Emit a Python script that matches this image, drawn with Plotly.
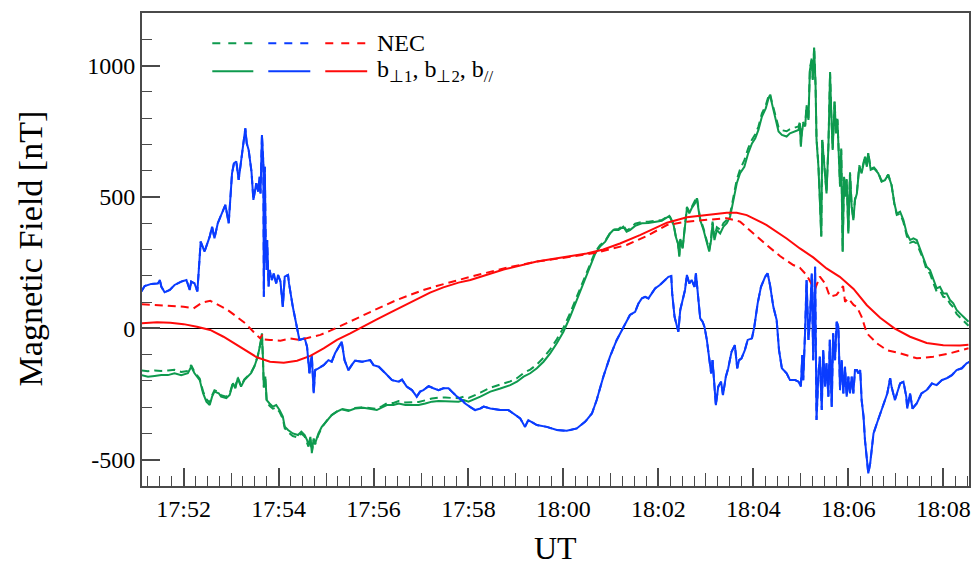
import pandas as pd
import plotly.graph_objects as go

# ---------------- data (time in minutes after 17:00 UT, field in nT) ----------------
green_b_t = [51.11, 51.25, 51.39, 51.53, 51.67, 51.81, 51.95, 52.09, 52.16, 52.23, 52.34, 52.41, 52.48, 52.55,
             52.60, 52.65, 52.74, 52.79, 52.90, 52.97, 53.04, 53.09, 53.14, 53.21, 53.28, 53.35, 53.42, 53.49,
             53.56, 53.62, 53.65, 53.67, 53.69, 53.72, 53.75, 53.81, 53.88, 53.95, 54.02, 54.09, 54.13, 54.20,
             54.30, 54.41, 54.48, 54.55, 54.60, 54.63, 54.67, 54.70, 54.74, 54.77, 54.84, 54.91, 55.02, 55.12,
             55.23, 55.33, 55.47, 55.61, 55.79, 55.97, 56.07, 56.18, 56.28, 56.42, 56.53, 56.67, 56.81, 56.95,
             57.09, 57.23, 57.37, 57.51, 57.65, 57.79, 57.90, 58.00, 58.25, 58.46, 58.67, 58.88, 59.02, 59.16,
             59.30, 59.44, 59.58, 59.72, 59.86, 60.00, 60.14, 60.28, 60.42, 60.53, 60.60, 60.67, 60.77, 60.88,
             60.98, 61.05, 61.16, 61.26, 61.33, 61.40, 61.51, 61.65, 61.79, 61.93, 62.07, 62.23, 62.32, 62.365,
             62.41, 62.44, 62.46, 62.51, 62.55, 62.60, 62.65, 62.70, 62.77, 62.81, 62.84, 62.88, 62.95, 63.02,
             63.07, 63.11, 63.14, 63.18, 63.23, 63.30, 63.37, 63.44, 63.51, 63.58, 63.65, 63.72, 63.81, 63.89,
             63.97, 64.04, 64.106, 64.18, 64.26, 64.32, 64.35, 64.39, 64.46, 64.53, 64.60, 64.70, 64.77, 64.88,
             64.95, 64.98, 65.00, 65.02, 65.05, 65.09, 65.12, 65.16, 65.19, 65.23, 65.25, 65.28, 65.31, 65.33,
             65.37, 65.40, 65.43, 65.45, 65.49, 65.52, 65.54, 65.58, 65.615, 65.64, 65.67, 65.71, 65.74, 65.77,
             65.80, 65.825, 65.85, 65.88, 65.91, 65.94, 65.965, 66.00, 66.035, 66.07, 66.105, 66.14, 66.18,
             66.23, 66.28, 66.32, 66.35, 66.39, 66.42, 66.47, 66.54, 66.63, 66.70, 66.77, 66.84, 66.91, 66.97,
             67.02, 67.09, 67.16, 67.23, 67.30, 67.37, 67.44, 67.51, 67.58, 67.65, 67.72, 67.79, 67.86, 67.93,
             68.00, 68.07, 68.14, 68.21, 68.28, 68.35, 68.42, 68.49, 68.53]
green_b = [-178, -184, -181, -178, -178, -171, -178, -171, -146, -171, -197, -247, -279, -292,
           -260, -241, -247, -260, -266, -254, -209, -228, -190, -222, -197, -184, -171, -146,
           -108, -57, -19, -108, -222, -184, -273, -286, -298, -292, -311, -336, -374, -387,
           -400, -406, -393, -406, -425, -445, -413, -470, -419, -438, -400, -375, -349, -330,
           -317, -308, -314, -305, -302, -308, -311, -301, -292, -292, -286, -292, -292, -292,
           -286, -279, -277, -277, -279, -279, -273, -279, -260, -241, -229, -216, -203, -184,
           -171, -152, -127, -95, -57, -13, 44, 108, 171, 222, 254, 285, 311, 330,
           361, 374, 374, 387, 368, 374, 390, 400, 401, 406, 409, 428, 393, 349,
           323, 273, 336, 304, 374, 457, 438, 457, 476, 495, 457, 412, 374, 330,
           292, 336, 400, 336, 374, 361, 387, 400, 425, 488, 552, 590, 615, 666,
           704, 723, 755, 806, 837, 876, 888, 856, 806, 749, 736, 730, 742, 749,
           755, 780, 691, 742, 780, 768, 844, 793, 983, 1021, 945, 1066, 920, 717,
           615, 488, 349, 717, 628, 564, 513, 691, 970, 818, 679, 862, 742, 793,
           615, 539, 679, 291, 577, 501, 564, 361, 590, 463, 412, 488, 513,
           615, 590, 628, 653, 615, 666, 603, 609, 590, 558, 564, 584, 545, 475,
           437, 444, 412, 361, 336, 342, 336, 304, 273, 234, 222, 184, 152, 158,
           133, 133, 108, 95, 70, 57, 44, 32, 25]

green_nec_t = [51.11, 51.25, 51.39, 51.53, 51.67, 51.81, 51.95, 52.09, 52.16, 52.23, 52.34, 52.41, 52.48, 52.55,
               52.60, 52.65, 52.74, 52.79, 52.90, 52.97, 53.04, 53.09, 53.14, 53.21, 53.28, 53.35, 53.42, 53.49,
               53.56, 53.62, 53.65, 53.67, 53.69, 53.72, 53.75, 53.81, 53.88, 53.95, 54.02, 54.09, 54.13, 54.20,
               54.30, 54.41, 54.48, 54.55, 54.60, 54.63, 54.67, 54.70, 54.74, 54.77, 54.84, 54.91, 55.02, 55.12,
               55.23, 55.33, 55.47, 55.61, 55.79, 55.97, 56.07, 56.18, 56.28, 56.42, 56.53, 56.67, 56.81, 56.95,
               57.09, 57.23, 57.37, 57.51, 57.65, 57.79, 57.90, 58.00, 58.25, 58.46, 58.67, 58.88, 59.02, 59.16,
               59.30, 59.44, 59.58, 59.72, 59.86, 60.00, 60.14, 60.28, 60.42, 60.53, 60.60, 60.67, 60.77, 60.88,
               60.98, 61.05, 61.16, 61.26, 61.33, 61.40, 61.51, 61.65, 61.79, 61.93, 62.07, 62.23, 62.32, 62.365,
               62.41, 62.44, 62.46, 62.51, 62.55, 62.60, 62.65, 62.70, 62.77, 62.81, 62.84, 62.88, 62.95, 63.02,
               63.07, 63.11, 63.14, 63.18, 63.23, 63.30, 63.37, 63.44, 63.51, 63.58, 63.65, 63.72, 63.81, 63.89,
               63.97, 64.04, 64.106, 64.18, 64.26, 64.32, 64.35, 64.39, 64.46, 64.53, 64.60, 64.70, 64.77, 64.88,
               64.95, 64.98, 65.00, 65.02, 65.05, 65.09, 65.12, 65.16, 65.19, 65.23, 65.25, 65.28, 65.31, 65.33,
               65.37, 65.40, 65.43, 65.45, 65.49, 65.52, 65.54, 65.58, 65.615, 65.64, 65.67, 65.71, 65.74, 65.77,
               65.80, 65.825, 65.85, 65.88, 65.91, 65.94, 65.965, 66.00, 66.035, 66.07, 66.105, 66.14, 66.18,
               66.23, 66.28, 66.32, 66.35, 66.39, 66.42, 66.47, 66.54, 66.63, 66.70, 66.77, 66.84, 66.91, 66.97,
               67.02, 67.09, 67.16, 67.23, 67.30, 67.37, 67.44, 67.51, 67.58, 67.65, 67.72, 67.79, 67.86, 67.93,
               68.00, 68.07, 68.14, 68.21, 68.28, 68.35, 68.42, 68.49, 68.53]
green_nec = [-160, -163, -160, -162, -160, -158, -166, -162, -140, -166, -192, -240, -270, -283,
             -255, -236, -242, -255, -260, -250, -205, -224, -186, -218, -194, -182, -169, -144,
             -106, -55, -22, -112, -226, -190, -280, -295, -306, -302, -318, -345, -380, -395,
             -410, -415, -400, -412, -432, -450, -420, -475, -425, -442, -405, -378, -350, -330,
             -316, -307, -312, -303, -300, -305, -307, -296, -285, -284, -277, -282, -281, -280,
             -274, -267, -264, -263, -265, -266, -260, -265, -245, -226, -214, -202, -190, -170,
             -157, -138, -112, -80, -42, 2, 58, 120, 182, 232, 262, 292, 316, 333,
             362, 376, 378, 392, 372, 380, 398, 405, 406, 410, 412, 430, 397, 352,
             326, 278, 340, 308, 378, 462, 444, 462, 482, 500, 462, 418, 380, 336,
             298, 342, 406, 345, 385, 375, 400, 412, 435, 500, 566, 605, 640, 685,
             718, 738, 768, 818, 848, 885, 893, 862, 815, 765, 754, 750, 758, 765,
             768, 785, 700, 748, 785, 772, 850, 800, 990, 1028, 950, 1072, 925, 722,
             620, 492, 352, 722, 632, 568, 518, 696, 975, 822, 684, 866, 746, 797,
             620, 543, 684, 295, 581, 505, 568, 365, 594, 467, 416, 492, 517,
             620, 595, 632, 657, 620, 670, 607, 612, 593, 560, 566, 585, 545, 472,
             432, 437, 404, 352, 326, 330, 323, 292, 262, 222, 208, 172, 140, 144,
             120, 118, 94, 80, 55, 42, 28, 18, 10]

blue_b_t = [51.11, 51.18, 51.32, 51.46, 51.50, 51.53, 51.60, 51.71, 51.81, 51.95, 52.06, 52.13, 52.16, 52.23,
            52.29, 52.36, 52.44, 52.55, 52.60, 52.65, 52.72, 52.83, 52.88, 52.95, 53.02, 53.06, 53.11, 53.16,
            53.21, 53.27, 53.30, 53.33, 53.37, 53.43, 53.47, 53.53, 53.57, 53.60, 53.62, 53.65, 53.68, 53.69,
            53.71, 53.73, 53.75, 53.76, 53.79, 53.81, 53.86, 53.90, 53.95, 53.99, 54.04, 54.09, 54.13, 54.20,
            54.22, 54.30, 54.37, 54.44, 54.55, 54.60, 54.65, 54.70, 54.74, 54.77, 54.84, 54.95, 55.05, 55.12,
            55.19, 55.26, 55.33, 55.39, 55.47, 55.54, 55.61, 55.76, 55.93, 56.00, 56.11, 56.25, 56.39, 56.53,
            56.60, 56.70, 56.81, 56.91, 56.98, 57.05, 57.16, 57.26, 57.37, 57.47, 57.58, 57.65, 57.76, 57.86,
            57.93, 58.04, 58.14, 58.25, 58.32, 58.46, 58.67, 58.84, 58.95, 59.09, 59.19, 59.26, 59.44, 59.65,
            59.86, 60.07, 60.28, 60.46, 60.60, 60.70, 60.84, 60.98, 61.12, 61.26, 61.40, 61.51, 61.58, 61.65,
            61.72, 61.79, 61.86, 61.93, 62.03, 62.14, 62.21, 62.27, 62.29, 62.34, 62.39, 62.42, 62.46, 62.51,
            62.56, 62.60, 62.65, 62.70, 62.76, 62.79, 62.83, 62.88, 62.93, 62.97, 63.02, 63.07, 63.11, 63.14,
            63.17, 63.21, 63.26, 63.32, 63.36, 63.42, 63.47, 63.54, 63.61, 63.66, 63.70, 63.75, 63.82, 63.88,
            63.97, 64.02, 64.09, 64.16, 64.25, 64.30, 64.35, 64.42, 64.49, 64.54, 64.60, 64.70, 64.77, 64.88,
            64.95, 65.00, 65.03, 65.05, 65.09, 65.12, 65.16, 65.19, 65.23, 65.26, 65.30, 65.33, 65.37, 65.40,
            65.44, 65.47, 65.51, 65.54, 65.58, 65.61, 65.65, 65.68, 65.72, 65.755, 65.79, 65.825, 65.86, 65.895,
            65.93, 65.965, 66.00, 66.035, 66.07, 66.105, 66.14, 66.18, 66.21, 66.25, 66.28, 66.32, 66.35, 66.39,
            66.42, 66.46, 66.49, 66.53, 66.60, 66.67, 66.74, 66.82, 66.88, 66.91, 66.98, 67.03, 67.09, 67.16,
            67.22, 67.24, 67.30, 67.35, 67.44, 67.54, 67.65, 67.76, 67.86, 67.97, 68.07, 68.18, 68.28, 68.39,
            68.49, 68.56]
blue_b = [140, 161, 169, 171, 184, 159, 137, 146, 165, 178, 184, 146, 178, 171,
          140, 330, 292, 349, 387, 343, 400, 450, 470, 400, 590, 628, 635, 565,
          641, 717, 761, 704, 679, 596, 489, 552, 520, 577, 513, 736, 628, 120,
          615, 324, 222, 336, 159, 222, 184, 209, 171, 203, 178, 82, 197, 203,
          171, 82, 19, -44, -38, -70, -171, -102, -247, -159, -152, -140, -121, -127,
          -95, -70, -51, -121, -159, -140, -123, -127, -121, -140, -146, -171, -197, -203,
          -195, -222, -235, -260, -241, -235, -220, -228, -235, -228, -228, -241, -260, -273,
          -286, -300, -311, -305, -298, -305, -311, -311, -324, -343, -375, -349, -368, -375,
          -387, -390, -381, -355, -324, -273, -184, -108, -45, 6, 51, 63, 95, 114,
          120, 114, 133, 152, 165, 186, 196, 199, 133, 44, 13, -13, 70, 108,
          146, 203, 171, 184, 158, 209, 120, 38, 25, 6, -44, -121, -171, -121,
          -197, -292, -222, -203, -254, -184, -152, -89, -64, -152, -121, -114, -83, -44,
          -38, 6, 95, 158, 197, 209, 165, 82, 32, -83, -152, -171, -197, -197,
          -203, -222, -102, -197, -7, 184, -44, 32, 209, -121, 234, -349, -171, -108,
          -311, -83, -222, -133, -260, -44, -299, -19, -121, 25, 6, -235, -121, -248,
          -146, -260, -184, -248, -184, -248, -159, -159, -171, -159, -273, -336, -425, -514,
          -552, -514, -463, -400, -362, -324, -286, -248, -190, -222, -273, -248, -210, -203,
          -260, -305, -248, -305, -286, -248, -235, -210, -216, -197, -190, -178, -159, -152,
          -133, -127]

blue_nec_t = blue_b_t
blue_nec = blue_b

red_b_t = [51.12, 51.44, 51.72, 52.00, 52.28, 52.56, 52.84, 53.12, 53.33, 53.54, 53.82, 54.11, 54.39, 54.67,
           54.95, 55.23, 55.51, 55.79, 56.07, 56.35, 56.63, 56.91, 57.19, 57.47, 57.79, 58.04, 58.74, 59.44,
           60.14, 60.49, 60.84, 61.19, 61.61, 62.18, 62.60, 63.02, 63.44, 63.65, 63.86, 64.28, 64.70, 64.98,
           65.26, 65.54, 65.82, 66.11, 66.39, 66.67, 66.97, 67.30, 67.65, 68.00, 68.35, 68.53]
red_b = [19, 23, 21, 16, 6, -6, -32, -63, -89, -110, -127, -131, -123, -105,
         -76, -44, -19, 6, 34, 60, 86, 110, 136, 156, 174, 184, 224, 254,
         275, 285, 300, 323, 355, 402, 423, 431, 440, 440, 431, 393, 342, 304,
         270, 228, 196, 150, 88, 40, 0, -32, -56, -64, -65, -62]

red_nec_t = [51.12, 51.44, 51.72, 52.00, 52.21, 52.39, 52.56, 52.74, 52.91, 53.12, 53.30, 53.47, 53.61, 53.66,
             53.70, 53.82, 54.04, 54.25, 54.46, 54.67, 54.88, 55.09, 55.37, 55.65, 55.93, 56.21, 56.49, 56.77,
             57.05, 57.33, 57.79, 58.04, 58.74, 59.44, 60.14, 60.70, 61.33, 61.75, 62.18, 62.60, 63.02, 63.44,
             63.72, 64.00, 64.28, 64.56, 64.84, 64.98, 65.12, 65.26, 65.30, 65.40, 65.51, 65.61, 65.75, 65.89,
             65.93, 66.00, 66.11, 66.18, 66.28, 66.39, 66.49, 66.60, 66.81, 67.09, 67.44, 67.79, 68.14, 68.53]
red_nec = [92, 89, 86, 82, 76, 98, 105, 89, 72, 44, 19, -13, -38, -25,
           -42, -44, -47, -39, -44, -34, -25, -9, 13, 38, 62, 85, 108, 127,
           146, 161, 184, 196, 228, 254, 272, 288, 317, 351, 393, 406, 413, 419,
           406, 361, 317, 275, 241, 230, 203, 158, 150, 197, 171, 121, 127, 161,
           101, 114, 89, 82, 44, -19, -38, -57, -83, -95, -114, -108, -95, -76]

y_tick_vals = [-500, 0, 500, 1000]
y_tick_text = ["-500", "0", "500", "1000"]
x_range_min = [51.124, 68.541]

legend_nec = "NEC"
legend_b = "b<sub>\u22a51</sub>, b<sub>\u22a52</sub>, b<sub>//</sub>"

# ---------------- styling ----------------
GREEN = "#0E9A4E"
BLUE = "#0A3CFF"
RED = "#FF0A0A"
AXC = "#4a4a4a"
FONT = "Liberation Serif"
BASE = pd.Timestamp("2000-01-01 17:00:00")


def to_time(mins):
    return [BASE + pd.Timedelta(minutes=m) for m in mins]


x_range = to_time(x_range_min)

fig = go.Figure()
dash_nec = "8px,5px"
dash_key = "8px,8px"
fig.add_trace(go.Scatter(x=to_time(green_nec_t), y=green_nec, mode="lines",
                         line=dict(color=GREEN, width=2, dash=dash_nec)))
fig.add_trace(go.Scatter(x=to_time(green_b_t), y=green_b, mode="lines",
                         line=dict(color=GREEN, width=2)))
fig.add_trace(go.Scatter(x=to_time(blue_nec_t), y=blue_nec, mode="lines", xaxis="x2",
                         line=dict(color=BLUE, width=2, dash=dash_nec)))
fig.add_trace(go.Scatter(x=to_time(blue_b_t), y=blue_b, mode="lines",
                         line=dict(color=BLUE, width=2)))
fig.add_trace(go.Scatter(x=to_time(red_nec_t), y=red_nec, mode="lines",
                         line=dict(color=RED, width=2, dash=dash_nec)))
fig.add_trace(go.Scatter(x=to_time(red_b_t), y=red_b, mode="lines",
                         line=dict(color=RED, width=2)))

fig.update_layout(
    width=973, height=571,
    margin=dict(l=142, r=4, t=13, b=85, autoexpand=False),
    paper_bgcolor="white", plot_bgcolor="white",
    showlegend=False,
    font=dict(family=FONT, size=24, color="black"),
    xaxis=dict(type="date", range=x_range, tickformat="%H:%M", dtick=120000, automargin=False,
               tick0="2000-01-01 17:52:00", ticks="inside", ticklen=18, tickwidth=1.5,
               tickcolor=AXC, showline=True, linecolor=AXC, linewidth=2, mirror=True,
               showgrid=False, zeroline=False,
               tickfont=dict(family=FONT, size=24, color="black"),
               minor=dict(dtick=15000, tick0="2000-01-01 17:52:00", ticks="inside",
                          ticklen=10, tickwidth=1.2, tickcolor=AXC, showgrid=False)),
    xaxis2=dict(type="date", range=x_range, overlaying="x", anchor="y", side="bottom",
                automargin=False,
                dtick=60000, tick0="2000-01-01 17:52:00", ticks="inside", ticklen=13,
                tickwidth=1.2, tickcolor=AXC, showticklabels=False, showline=False,
                showgrid=False, zeroline=False),
    yaxis=dict(range=[-600, 1200], tickmode="array", tickvals=y_tick_vals, ticktext=y_tick_text,
               automargin=False,
               ticks="inside", ticklen=18, tickwidth=1.5, tickcolor=AXC,
               showline=True, linecolor=AXC, linewidth=2, mirror=True, showgrid=False,
               zeroline=True, zerolinecolor="black", zerolinewidth=1,
               tickfont=dict(family=FONT, size=24, color="black"),
               minor=dict(tickmode="linear", dtick=100, tick0=0, ticks="inside", ticklen=10,
                          tickwidth=1.2, tickcolor=AXC, showgrid=False)),
)

# axis titles
fig.add_annotation(text="UT", xref="paper", yref="paper", x=0.5, y=-0.131,
                   xanchor="center", yanchor="middle", showarrow=False,
                   font=dict(family=FONT, size=32, color="black"))
fig.add_annotation(text="Magnetic Field [nT]", xref="paper", yref="paper", x=-0.135, y=0.503,
                   xanchor="center", yanchor="middle", showarrow=False, textangle=-90,
                   font=dict(family=FONT, size=34, color="black"))

# legend key (drawn manually: three colour samples per row)
rows = [(0.936, "dash", legend_nec), (0.877, "solid", legend_b)]
segs = [(0.0850, 0.1346, GREEN), (0.1527, 0.2035, BLUE), (0.2216, 0.2723, RED)]
for ypos, dsh, label in rows:
    for x0, x1, col in segs:
        fig.add_shape(type="line", xref="paper", yref="paper", x0=x0, x1=x1, y0=ypos, y1=ypos,
                      line=dict(color=col, width=2, dash=dash_key if dsh == "dash" else "solid"))
    fig.add_annotation(text=label, xref="paper", yref="paper", x=0.282, y=ypos,
                       xanchor="left", yanchor="middle", showarrow=False,
                       font=dict(family=FONT, size=24, color="black"))

fig.write_html("out.html", config={"displayModeBar": False},
               post_script="document.body.style.margin='0';document.body.style.overflow='hidden';")
